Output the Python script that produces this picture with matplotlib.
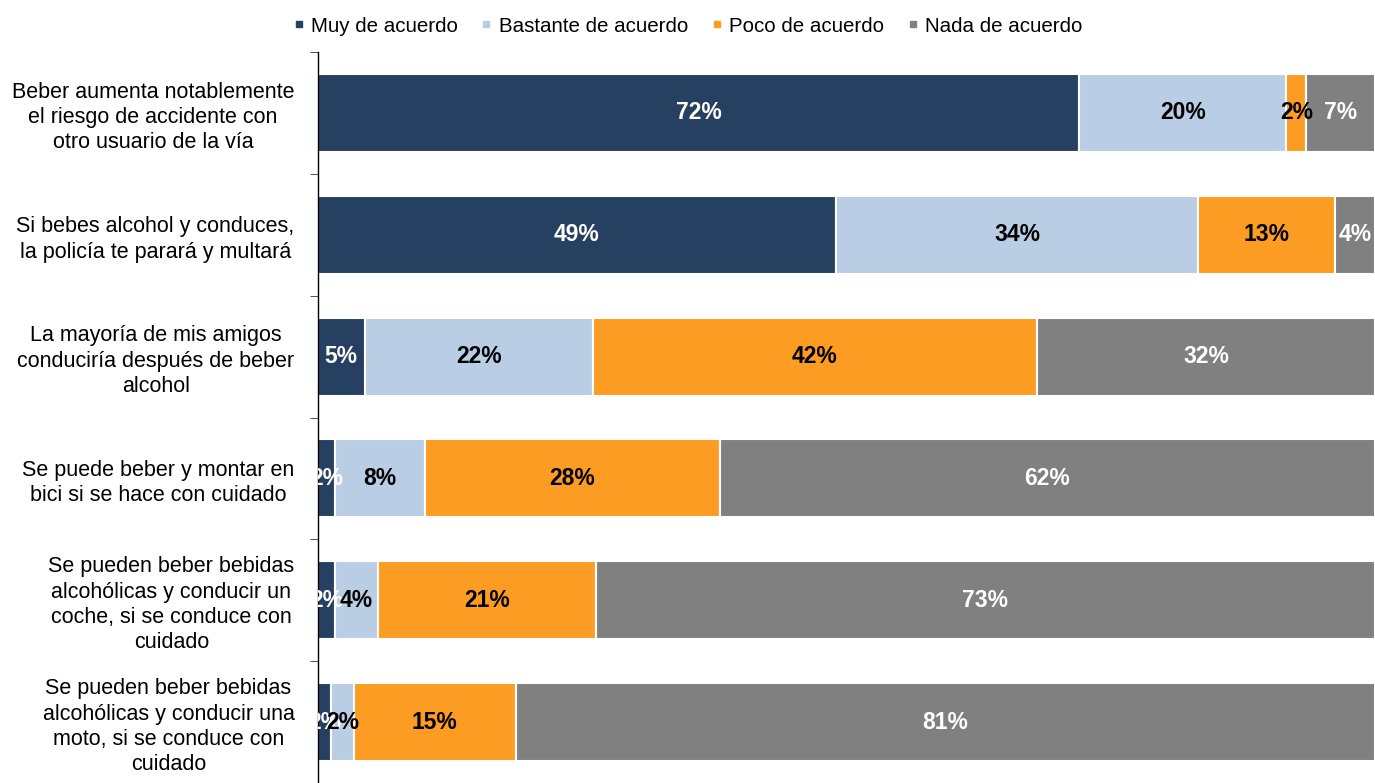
import matplotlib.pyplot as plt
from matplotlib.lines import Line2D
import numpy as np

plt.rcParams["font.family"] = ["Liberation Sans", "DejaVu Sans"]

categories = [
    "Beber aumenta notablemente\nel riesgo de accidente con\notro usuario de la vía",
    "Si bebes alcohol y conduces,\nla policía te parará y multará",
    "La mayoría de mis amigos\nconduciría después de beber\nalcohol",
    "Se puede beber y montar en\nbici si se hace con cuidado",
    "Se pueden beber bebidas\nalcohólicas y conducir un\ncoche, si se conduce con\ncuidado",
    "Se pueden beber bebidas\nalcohólicas y conducir una\nmoto, si se conduce con\ncuidado",
]
series_names = ["Muy de acuerdo", "Bastante de acuerdo", "Poco de acuerdo", "Nada de acuerdo"]

# widths, printed labels as shown on the chart
muy = [72.0, 49.0, 4.4, 1.6, 1.6, 1.2]
bastante = [19.6, 34.3, 21.6, 8.5, 4.1, 2.2]
poco = [1.9, 12.9, 42.0, 27.9, 20.6, 15.3]
nada = [6.5, 3.8, 32.0, 62.0, 73.7, 81.3]

muy_labels = ["72%", "49%", "5%", "2%", "2%", "2%"]
bastante_labels = ["20%", "34%", "22%", "8%", "4%", "2%"]
poco_labels = ["2%", "13%", "42%", "28%", "21%", "15%"]
nada_labels = ["7%", "4%", "32%", "62%", "73%", "81%"]

colors = ["#264061", "#B9CDE5", "#FC9C22", "#808080"]
label_colors = ["white", "black", "black", "white"]

fig = plt.figure(figsize=(13.75, 7.83), dpi=100)
ax = fig.add_axes([318 / 1375, 0.0, 1 - 318 / 1375, 1 - 52 / 783])

y = np.arange(len(categories))
left = np.zeros(len(categories))
all_values = [muy, bastante, poco, nada]
all_labels = [muy_labels, bastante_labels, poco_labels, nada_labels]
for values, labels, color, tcolor in zip(all_values, all_labels, colors, label_colors):
    values = np.array(values)
    ax.barh(y, values, left=left, height=0.64, color=color, edgecolor="white", linewidth=1.5)
    for yi, (lft, val, lab) in enumerate(zip(left, values, labels)):
        ax.text(lft + val / 2, yi, lab, ha="center", va="center",
                color=tcolor, fontsize=16.5, fontweight="bold", clip_on=True)
    left = left + values

ax.set_xlim(0, 100)
ax.set_ylim(len(categories) - 0.5, -0.5)
ax.set_xticks([])
ax.set_yticks(y)
ax.set_yticklabels(categories, fontsize=15.5, linespacing=1.27)
for lab in ax.get_yticklabels():
    lab.set_multialignment("center")
ax.set_yticks(np.arange(-0.5, len(categories)), minor=True)
ax.tick_params(axis="y", which="major", length=0, pad=17)
ax.tick_params(axis="y", which="minor", length=6, color="#333333", direction="out")
for side in ["top", "right", "bottom"]:
    ax.spines[side].set_visible(False)
ax.spines["left"].set_color("black")
ax.spines["left"].set_linewidth(1.0)

handles = [Line2D([], [], marker="s", linestyle="none", markersize=5,
                  markerfacecolor=c, markeredgecolor=c) for c in colors]
fig.legend(handles, series_names, loc="center", bbox_to_anchor=(0.5, 1 - 26 / 783),
           ncol=4, frameon=False, fontsize=14.8, handlelength=0.6,
           handletextpad=0.3, columnspacing=1.1)

fig.savefig("out.png", dpi=100)
